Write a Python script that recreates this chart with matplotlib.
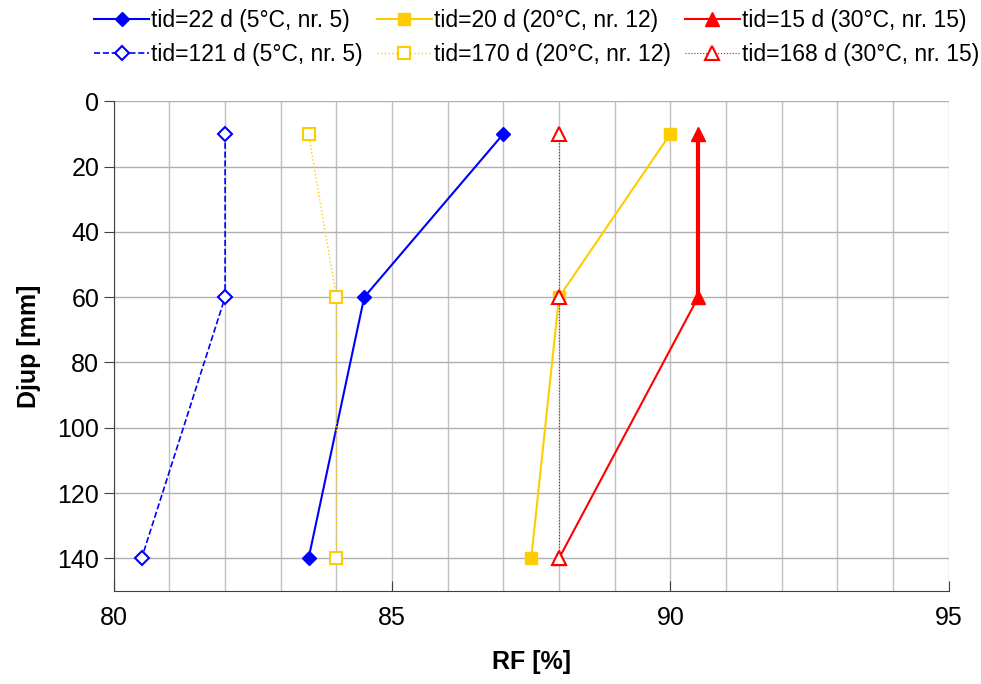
import matplotlib.pyplot as plt
import numpy as np

plt.rcParams['font.family'] = ['Liberation Sans', 'DejaVu Sans']

depth = [10, 60, 140]

# RF [%] at each depth
rf_22 = [87, 84.5, 83.5]
rf_121 = [82, 82, 80.5]
rf_20 = [90, 88, 87.5]
rf_170 = [83.5, 84, 84]
rf_15 = [90.5, 90.5, 88]
rf_168 = [88, 88, 88]

labels = ["tid=22 d (5°C, nr. 5)", "tid=121 d (5°C, nr. 5)",
          "tid=20 d (20°C, nr. 12)", "tid=170 d (20°C, nr. 12)",
          "tid=15 d (30°C, nr. 15)", "tid=168 d (30°C, nr. 15)"]

blue = '#0000FF'
gold = '#FFCC00'
red = '#FF0000'

fig = plt.figure(figsize=(9.81, 6.84), dpi=100)
ax = fig.add_axes([0.116, 0.136, 0.851, 0.716])

h1, = ax.plot(rf_22, depth, '-', color=blue, lw=1.5, marker='D', ms=7, mfc=blue, mec=blue)
h2, = ax.plot(rf_121, depth, '--', color=blue, lw=1.2, marker='D', ms=7, mfc='white', mec=blue, mew=1.5)
h3, = ax.plot(rf_20, depth, '-', color=gold, lw=1.5, marker='s', ms=9, mfc=gold, mec=gold)
h4, = ax.plot(rf_170, depth, ':', color=gold, lw=1.0, marker='s', ms=9, mfc='white', mec=gold, mew=1.5)
h5, = ax.plot(rf_15, depth, '-', color=red, lw=1.5, marker='^', ms=10, mfc=red, mec=red)
h6, = ax.plot(rf_168, depth, ':', color=red, lw=0.8, marker='^', ms=10, mfc='white', mec=red, mew=1.5)
# thicker segment of the 15 d series between 10 and 60 mm
ax.plot(rf_15[:2], depth[:2], '-', color=red, lw=3)

ax.set_xlim(80, 95)
ax.set_ylim(150, 0)
ax.set_xticks([80, 85, 90, 95])
ax.set_xticks(np.arange(80, 96, 1), minor=True)
ax.set_yticks(np.arange(0, 141, 20))
ax.grid(True, which='both', axis='x', color='#C0C0C0', lw=1)
ax.grid(True, which='major', axis='y', color='#B0B0B0', lw=1)
ax.set_axisbelow(True)

for s in ['top', 'right']:
    ax.spines[s].set_visible(False)
for s in ['left', 'bottom']:
    ax.spines[s].set_color('#404040')
ax.tick_params(axis='x', which='major', direction='in', length=7, labelsize=18, pad=11, color='#404040')
ax.tick_params(axis='x', which='minor', length=0)
ax.tick_params(axis='y', direction='out', length=7, labelsize=18, color='#404040')

ax.set_xlabel("RF [%]", fontsize=18, fontweight='bold', labelpad=14)
ax.set_ylabel("Djup [mm]", fontsize=18, fontweight='bold', labelpad=12)

fig.legend([h1, h2, h3, h4, h5, h6], labels, loc='upper center', bbox_to_anchor=(0.547, 1.017),
           ncol=3, frameon=False, fontsize=16.5, handlelength=2.4, handletextpad=0.1,
           columnspacing=0.6, labelspacing=0.5)

fig.savefig('out.png', dpi=100)
